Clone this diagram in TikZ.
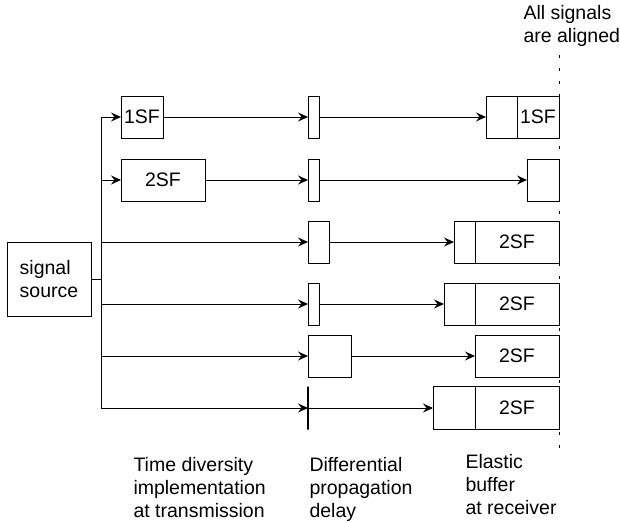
\documentclass[tikz,border=0pt]{standalone}
\usepackage{fontspec}
\setmainfont{Liberation Sans}
\usetikzlibrary{arrows.meta,positioning}

\tikzset{
  blk/.style={draw, line width=1pt, inner sep=0pt, outer sep=0pt, minimum height=42pt, anchor=west},
  buf/.style={blk, anchor=east},
  lbl/.style={align=left, inner sep=0pt, anchor=north west},
}

\begin{document}
\begin{tikzpicture}[x=1pt,y=-1pt,>={Stealth[length=10pt,width=9pt,inset=3.5pt]}, line width=1pt, font=\fontsize{19.5}{23}\selectfont]
  \useasboundingbox (0,0) rectangle (620,522);

  % source and trunk
  \node[blk, minimum width=84pt, minimum height=74pt, align=left] (src) at (7,279) {signal\\source};
  \coordinate (t1) at (101,117);
  \coordinate (t2) at (101,180);
  \coordinate (t3) at (101,242);
  \coordinate (t4) at (101,304);
  \coordinate (t5) at (101,356);
  \coordinate (t6) at (101,408);
  \coordinate (tj) at (t1 |- src);
  \draw (t1) -- (t6);
  \draw (src) -- (tj);

  % transmission
  \node[blk, minimum width=42pt] (tx1) at (121,117) {1SF};
  \node[blk, minimum width=84pt] (tx2) at (121,180) {2SF};

  % propagation delay
  \node[blk, minimum width=11pt] (d1) at (308,117) {};
  \node[blk, minimum width=11pt] (d2) at (308,180) {};
  \node[blk, minimum width=21pt] (d3) at (308,242) {};
  \node[blk, minimum width=11pt] (d4) at (308,304) {};
  \node[blk, minimum width=43pt] (d5) at (308,356) {};
  \node[blk, minimum width=0pt, minimum height=43pt, line width=1.5pt] (d6) at (308,408) {};

  % elastic buffers
  \node[buf, minimum width=42pt] (b1) at (559,117) {1SF};
  \node[buf, minimum width=31pt, left=0pt of b1] (e1) {};
  \node[buf, minimum width=32pt] (b2) at (559,180) {};
  \node[buf, minimum width=84pt] (b3) at (559,242) {2SF};
  \node[buf, minimum width=21pt, left=0pt of b3] (e3) {};
  \node[buf, minimum width=84pt] (b4) at (559,304) {2SF};
  \node[buf, minimum width=31pt, left=0pt of b4] (e4) {};
  \node[buf, minimum width=84pt] (b5) at (559,356) {2SF};
  \node[buf, minimum width=84pt, minimum height=43pt] (b6) at (559,408) {2SF};
  \node[buf, minimum width=42pt, minimum height=43pt, left=0pt of b6] (e6) {};

  \path[->] (t1) edge (tx1)
            (tx1) edge (d1)
            (d1) edge (e1)
            (t2) edge (tx2)
            (tx2) edge (d2)
            (d2) edge (b2)
            (t3) edge (d3)
            (d3) edge (e3)
            (t4) edge (d4)
            (d4) edge (e4)
            (t5) edge (d5)
            (d5) edge (b5)
            (t6) edge (d6)
            (d6) edge (e6);

  % alignment line
  \coordinate (atop) at (559,55);
  \coordinate (abot) at (559,450);
  \draw[dash pattern=on 3pt off 10pt] (atop) -- (abot);

  \node[lbl] (alignlbl) at (523,5) {All signals\\are aligned};
  \node[lbl] (txlbl) at (133,457) {Time diversity\\implementation\\at transmission};
  \node[lbl] (dlylbl) at (309,457) {Differential\\propagation\\delay};
  \node[lbl] (buflbl) at (465,454) {Elastic\\buffer\\at receiver};
\end{tikzpicture}
\end{document}
